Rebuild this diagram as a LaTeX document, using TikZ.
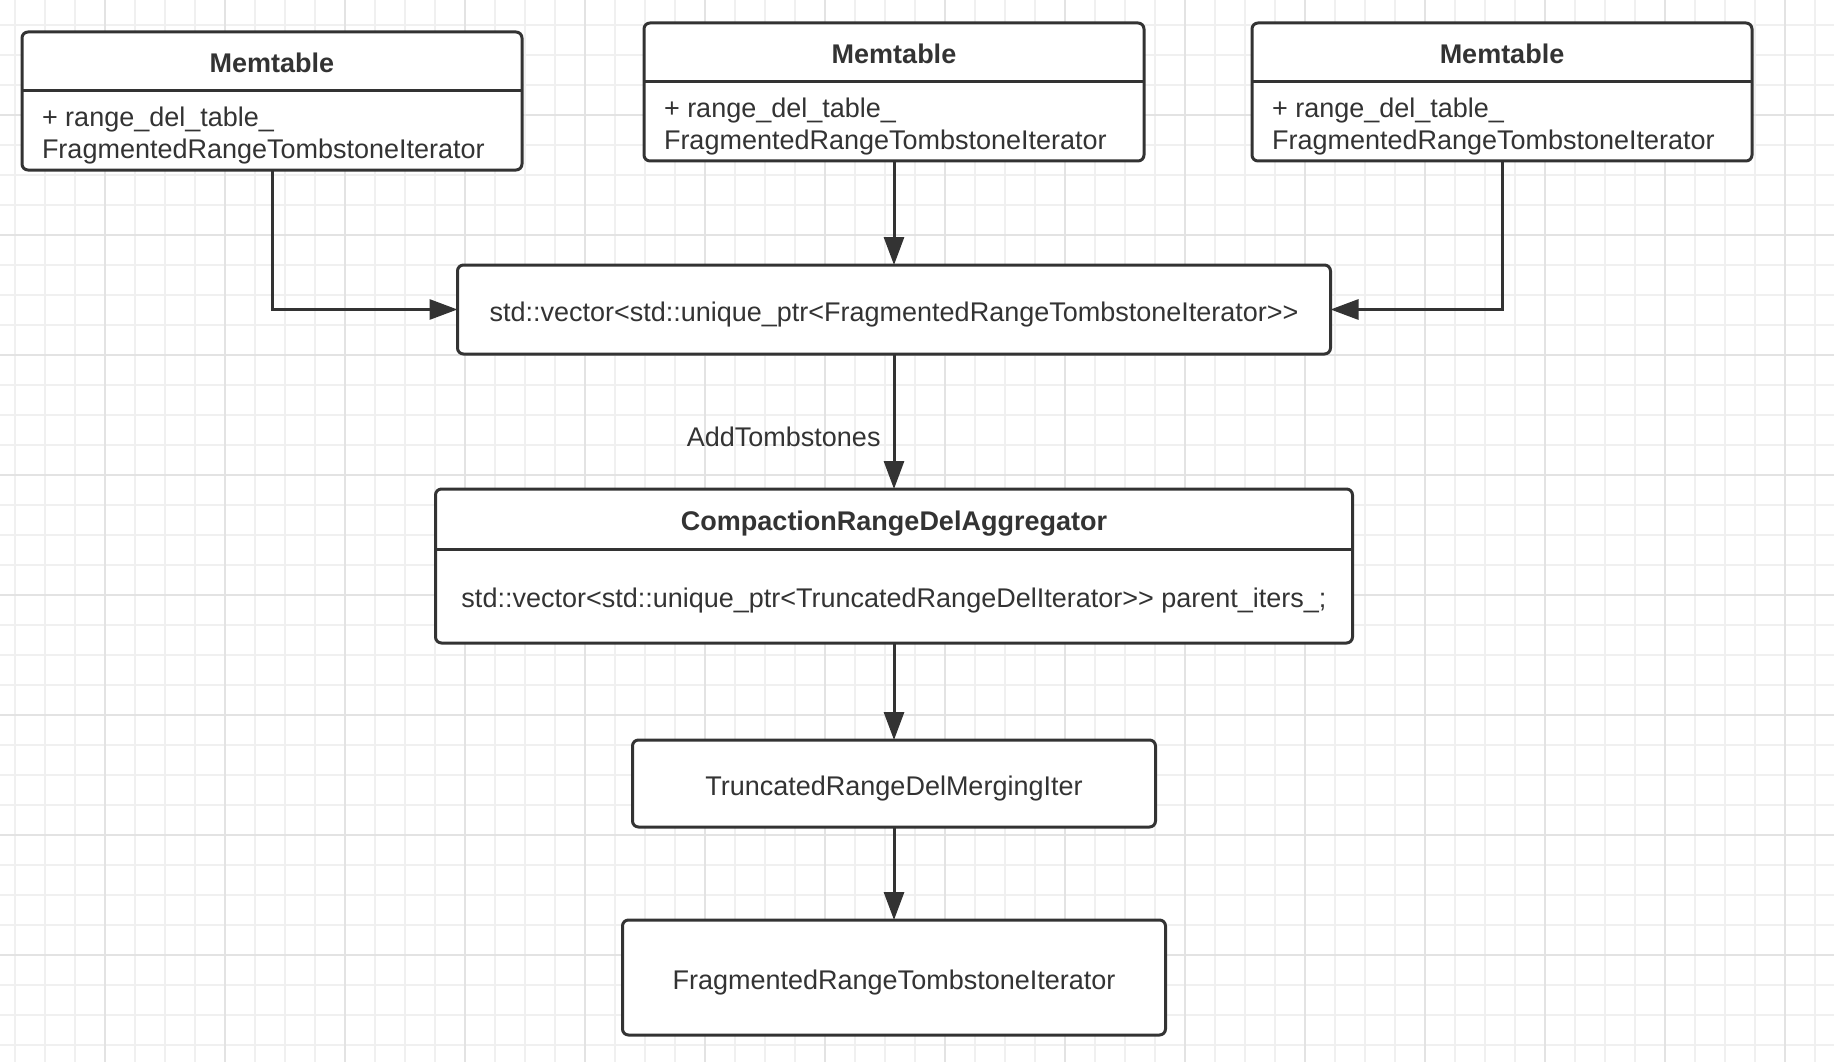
\documentclass[tikz,border=0pt]{standalone}
\usepackage{fontspec}
\setmainfont{Liberation Sans}
\usetikzlibrary{positioning, arrows.meta}
\definecolor{ink}{HTML}{333333}
\definecolor{gridminor}{HTML}{F0F0F0}
\definecolor{gridmajor}{HTML}{E3E3E3}
\tikzset{
  umlbox/.style={rectangle, draw=ink, line width=3pt, rounded corners=6pt,
    fill=white, inner sep=0pt, outer sep=0pt, text height=24pt, text depth=0pt,
    font=\fontsize{27}{32}\selectfont, text=ink, align=center},
  umltitle/.style={inner sep=0pt, outer sep=0pt, text height=23pt, text depth=0pt,
    font=\fontsize{27}{32}\selectfont\bfseries, text=ink},
  umlbody/.style={inner sep=0pt, outer sep=0pt, yshift=-5pt,
    font=\fontsize{27}{32}\selectfont, text=ink, align=left},
  sepline/.style={draw=ink, line width=3pt},
  flow/.style={draw=ink, line width=3pt, -{Triangle[length=28pt, width=20pt]}},
  flowlabel/.style={inner sep=0pt, font=\fontsize{27}{32}\selectfont, text=ink},
}

\begin{document}
\begin{tikzpicture}[x=1pt, y=-1pt]
  \useasboundingbox (0,0) rectangle (1834,1062);
  % background grid
  \foreach \gx in {15,45,...,1815} \draw[gridminor, line width=1.5pt] (\gx,0) -- (\gx,1062);
  \foreach \gy in {25,55,...,1045} \draw[gridminor, line width=1.5pt] (0,\gy) -- (1834,\gy);
  \foreach \gx in {105,225,...,1785} \draw[gridmajor, line width=2pt] (\gx,0) -- (\gx,1062);
  \foreach \gy in {115,235,...,1015} \draw[gridmajor, line width=2pt] (0,\gy) -- (1834,\gy);

  % memtables
  \node (mt1) [umlbox, minimum width=500pt, minimum height=138pt] at (272,101) {};
  \node (mt1t) [umltitle, minimum width=500pt, minimum height=59pt, below=0pt of mt1.north] {Memtable};
  \draw[sepline] (mt1t.south west) -- (mt1t.south east);
  \node (mt1b) [umlbody, minimum height=79pt, below right=0pt and 20pt of mt1t.south west]
    {+ range\_del\_table\_\\FragmentedRangeTombstoneIterator};

  \node (mt2) [umlbox, minimum width=500pt, minimum height=138pt] at (894,92) {};
  \node (mt2t) [umltitle, minimum width=500pt, minimum height=59pt, below=0pt of mt2.north] {Memtable};
  \draw[sepline] (mt2t.south west) -- (mt2t.south east);
  \node (mt2b) [umlbody, minimum height=79pt, below right=0pt and 20pt of mt2t.south west]
    {+ range\_del\_table\_\\FragmentedRangeTombstoneIterator};

  \node (mt3) [umlbox, minimum width=500pt, minimum height=138pt] at (1502,92) {};
  \node (mt3t) [umltitle, minimum width=500pt, minimum height=59pt, below=0pt of mt3.north] {Memtable};
  \draw[sepline] (mt3t.south west) -- (mt3t.south east);
  \node (mt3b) [umlbody, minimum height=79pt, below right=0pt and 20pt of mt3t.south west]
    {+ range\_del\_table\_\\FragmentedRangeTombstoneIterator};

  % chain
  \node (vec) [umlbox, minimum width=873pt, minimum height=89pt, below=104pt of mt2]
    {std::vector<std::unique\_ptr<FragmentedRangeTombstoneIterator>{}>};

  \node (crda) [umlbox, minimum width=917pt, minimum height=154pt, below=135pt of vec] {};
  \node (crdat) [umltitle, minimum width=917pt, minimum height=60pt, below=0pt of crda.north]
    {CompactionRangeDelAggregator};
  \draw[sepline] (crdat.south west) -- (crdat.south east);
  \node (crdab) [umlbody, minimum height=94pt, below=0pt of crdat.south]
    {std::vector<std::unique\_ptr<TruncatedRangeDelIterator>{}> parent\_iters\_;};

  \node (trunc) [umlbox, minimum width=523pt, minimum height=87pt, below=97pt of crda]
    {TruncatedRangeDelMergingIter};
  \node (frag) [umlbox, minimum width=543pt, minimum height=115pt, below=93pt of trunc]
    {FragmentedRangeTombstoneIterator};

  \draw[flow] (mt1.south) |- (vec.west);
  \draw[flow] (mt2.south) -- (vec.north);
  \draw[flow] (mt3.south) |- (vec.east);
  \draw[flow] (vec.south) -- node[flowlabel, left=12pt, pos=0.61] {AddTombstones} (crda.north);
  \draw[flow] (crda.south) -- (trunc.north);
  \draw[flow] (trunc.south) -- (frag.north);
\end{tikzpicture}
\end{document}
